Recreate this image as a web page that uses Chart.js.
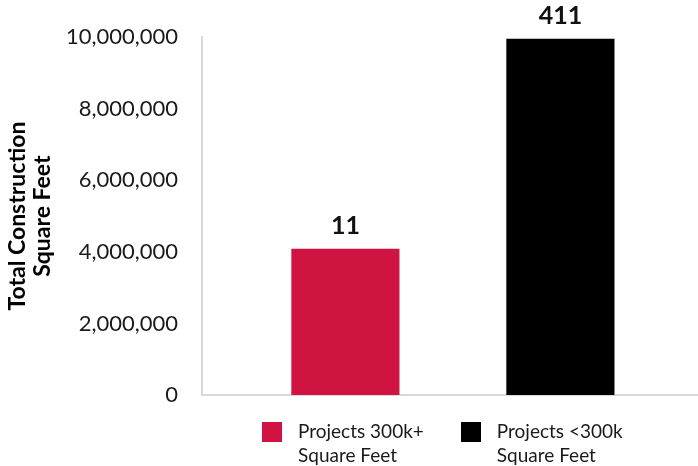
<!DOCTYPE html>
<html>
<head>
<meta charset="utf-8">
<script src="https://cdn.jsdelivr.net/npm/chart.js@4/dist/chart.umd.min.js"></script>
<style>
  html, body { margin: 0; padding: 0; background: #ffffff; }
  #wrap { width: 698px; height: 466px; position: relative; }
  #legend {
    position: absolute; left: 262px; top: 419px;
    display: flex; gap: 37px;
    font-family: Lato, sans-serif; font-size: 19px; line-height: 24px; color: #1a1a1a;
  }
  .item { display: flex; align-items: flex-start; }
  .box { width: 20px; height: 20px; margin-top: 3px; margin-right: 16px; flex: none; }
</style>
</head>
<body>
<div id="wrap">
  <canvas id="sqftChart"></canvas>
  <div id="legend"></div>
</div>
<script>
// Catégories (texte de légende sur deux lignes)
const categories = [
    ['Projects 300k+', 'Square Feet'],
    ['Projects <300k', 'Square Feet']
];
// Surface totale de construction (pi²)
const totalSqft = [4080000, 9950000];
// Nombre de projets affiché au-dessus de chaque barre
const projectCounts = [11, 411];
// Graduations de l'axe Y
const yTicks = [0, 2000000, 4000000, 6000000, 8000000, 10000000];
const barColors = ['#D01442', '#000000'];

// Plugin pour écrire le nombre de projets au-dessus des barres
const countLabels = {
    id: 'countLabels',
    afterDatasetsDraw(chart) {
        const ctx = chart.ctx;
        const meta = chart.getDatasetMeta(0);
        ctx.save();
        ctx.font = 'bold 25px Lato';
        ctx.fillStyle = '#111111';
        ctx.textAlign = 'center';
        ctx.textBaseline = 'alphabetic';
        meta.data.forEach((bar, i) => {
            ctx.fillText(String(projectCounts[i]), bar.x, bar.y - 15);
        });
        ctx.restore();
    }
};

// Légende HTML sous le graphique
function buildLegend() {
    const legend = document.getElementById('legend');
    categories.forEach((lines, i) => {
        const item = document.createElement('div');
        item.className = 'item';
        const box = document.createElement('span');
        box.className = 'box';
        box.style.background = barColors[i];
        const label = document.createElement('span');
        label.innerHTML = lines.map(l => l.replace('<', '&lt;')).join('<br>');
        item.appendChild(box);
        item.appendChild(label);
        legend.appendChild(item);
    });
}

function initChart() {
    const ctx = document.getElementById('sqftChart').getContext('2d');

    new Chart(ctx, {
        type: 'bar',
        data: {
            datasets: [{
                data: totalSqft.map((v, i) => ({ x: i, y: v })),
                backgroundColor: barColors,
                borderWidth: 0,
                categoryPercentage: 1,
                barPercentage: 1
            }]
        },
        options: {
            responsive: true,
            maintainAspectRatio: false,
            animation: false,
            layout: {
                padding: { top: 33, left: 0, right: 0, bottom: 71 }
            },
            plugins: {
                tooltip: { enabled: false },
                legend: { display: false }
            },
            scales: {
                x: {
                    type: 'linear',
                    offset: false,
                    min: -0.667,
                    max: 1.64,
                    grid: { display: false, drawTicks: false },
                    border: { display: true, color: '#d9d9d9', width: 2 },
                    ticks: { display: false }
                },
                y: {
                    min: 0,
                    max: 10000000,
                    afterBuildTicks: (scale) => {
                        scale.ticks = yTicks.map(v => ({ value: v }));
                    },
                    afterFit: (scale) => {
                        scale.width = 202;
                    },
                    grid: { display: false, drawTicks: false },
                    border: { display: true, color: '#d9d9d9', width: 2 },
                    ticks: {
                        padding: 24,
                        color: '#1a1a1a',
                        font: { family: 'Lato', size: 22 },
                        callback: (value) => value.toLocaleString('en-US')
                    },
                    title: {
                        display: true,
                        text: ['Total Construction', 'Square Feet'],
                        color: '#000000',
                        font: { family: 'Lato', size: 23, weight: 'bold', lineHeight: 1.09 },
                        padding: { top: 5, bottom: 0 }
                    }
                }
            }
        },
        plugins: [countLabels]
    });
}

document.addEventListener('DOMContentLoaded', function() {
    buildLegend();
    initChart();
});
</script>
</body>
</html>
